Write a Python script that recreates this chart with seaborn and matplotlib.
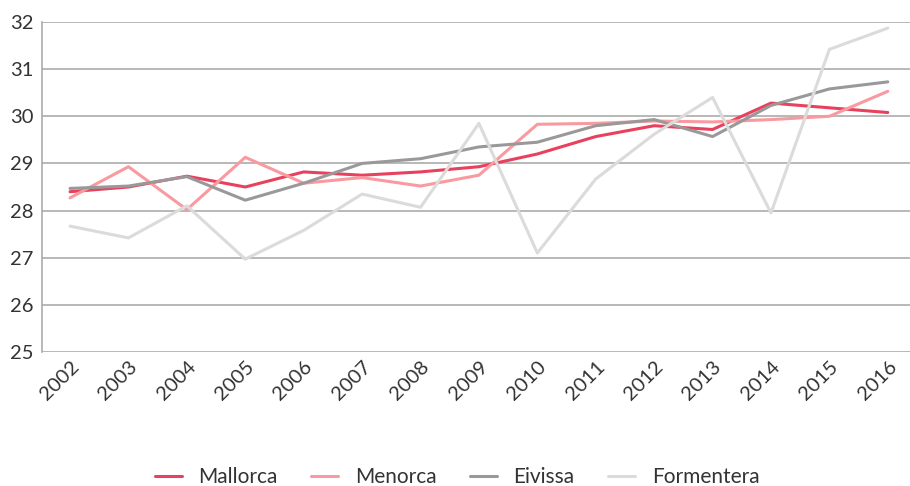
import pandas as pd
import numpy as np
import matplotlib
matplotlib.use("Agg")
import matplotlib.pyplot as plt
import seaborn as sns

## data
years = list(range(2002, 2017))
mallorca = [28.40, 28.50, 28.73, 28.50, 28.82, 28.75, 28.82, 28.93, 29.20, 29.57, 29.80, 29.72, 30.28, 30.18, 30.08]
menorca = [28.27, 28.93, 28.02, 29.13, 28.58, 28.70, 28.52, 28.75, 29.83, 29.85, 29.90, 29.88, 29.93, 30.00, 30.53]
eivissa = [28.47, 28.52, 28.72, 28.22, 28.58, 29.00, 29.10, 29.35, 29.45, 29.80, 29.93, 29.57, 30.23, 30.58, 30.73]
formentera = [27.67, 27.42, 28.10, 26.97, 27.58, 28.35, 28.07, 29.85, 27.10, 28.67, 29.62, 30.40, 27.95, 31.42, 31.87]

islands = ["Mallorca", "Menorca", "Eivissa", "Formentera"]
colors = ["#E8405D", "#F89AA0", "#9A9898", "#DCDADA"]

df = pd.DataFrame({"year": years, "Mallorca": mallorca, "Menorca": menorca,
                   "Eivissa": eivissa, "Formentera": formentera})
long = df.melt(id_vars="year", var_name="illa", value_name="valor")

## plot
sns.set_style("white")
plt.rcParams['font.family'] = ['Lato', 'DejaVu Sans']

fig = plt.figure(figsize=(9.1, 4.86), dpi=100)
ax = fig.add_axes([42/910, 1 - 352/486, (910 - 42)/910, (352 - 22)/486])

# gridlines first so lines sit on top
ax.set_axisbelow(True)
ax.yaxis.grid(True, color="#ABABAB", linewidth=1.2)

sns.lineplot(data=long, x="year", y="valor", hue="illa", hue_order=islands,
             palette=colors, linewidth=2.2, ax=ax, legend=True)

ax.set_ylim(25, 32)
ax.set_xlim(2001.52, 2016.38)
ax.set_yticks(range(25, 33))
ax.set_xticks(years)
ax.set_xticklabels([str(y) for y in years], rotation=45, ha="right",
                   rotation_mode="anchor", fontsize=14.5, color="#333333")
ax.tick_params(axis="y", labelsize=14.5, labelcolor="#333333", length=0, pad=6)
ax.tick_params(axis="x", length=0, pad=4)
ax.set_xlabel("")
ax.set_ylabel("")

for s in ["top", "right", "bottom"]:
    ax.spines[s].set_visible(False)
ax.spines["left"].set_color("#ABABAB")
ax.spines["left"].set_linewidth(1.2)

handles, labels = ax.get_legend_handles_labels()
ax.legend(handles, labels, loc="center", bbox_to_anchor=(0.478, -0.38),
          ncol=4, frameon=False, fontsize=15, handlelength=1.3,
          columnspacing=1.6, handletextpad=0.8, labelcolor="#333333")

fig.savefig("out.png", dpi=100)
